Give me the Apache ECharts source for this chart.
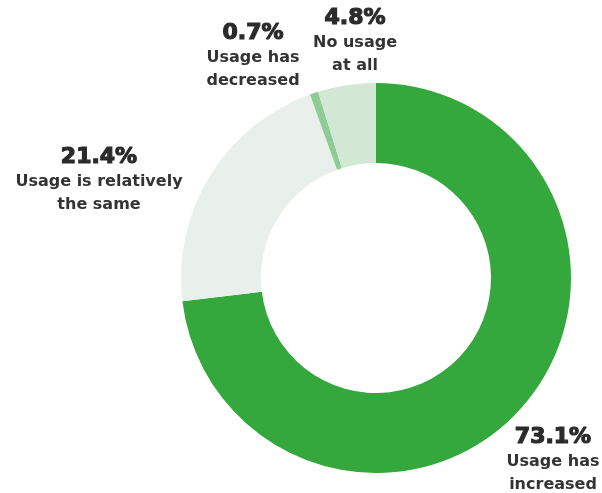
<!DOCTYPE html>
<html>
<head>
<meta charset="utf-8">
<script src="https://cdn.jsdelivr.net/npm/echarts@6/dist/echarts.min.js"></script>
<style>
  html, body { margin: 0; padding: 0; background: #fff; }
  #chart { width: 602px; height: 493px; }
</style>
</head>
<body>
<div id="chart"></div>
<script>
// 数据
const categories = ['Usage has increased', 'Usage is relatively the same', 'Usage has decreased', 'No usage at all']
const values = [73.1, 21.4, 0.7, 4.8]
const labelLines = [['Usage has', 'increased'], ['Usage is relatively', 'the same'], ['Usage has', 'decreased'], ['No usage', 'at all']]
const colors = ['#34a83c', '#e9efea', '#8fcb95', '#d3e7d5']

// 标签位置
const labelPos = [[553, 424], [99, 144], [253, 20], [355, 5]]

const chart = echarts.init(document.getElementById('chart'))

const graphics = values.map((v, i) => ({
  type: 'text',
  x: labelPos[i][0],
  y: labelPos[i][1],
  style: {
    text: '{p|' + v.toFixed(1) + '%}\n{t|' + labelLines[i].join('}\n{t|') + '}',
    align: 'center',
    rich: {
      p: {
        fontFamily: 'DejaVu Sans', fontWeight: 'bold', fontSize: 22, lineHeight: 26,
        fill: '#2b2b2b', stroke: '#2b2b2b', lineWidth: 1.2, align: 'center'
      },
      t: { fontFamily: 'DejaVu Sans', fontWeight: 'bold', fontSize: 16, lineHeight: 23, fill: '#333', align: 'center' }
    }
  }
}))

chart.setOption({
  animation: false,
  color: colors,
  graphic: graphics,
  series: [{
    type: 'pie',
    center: [376, 278],
    radius: [115, 195],
    startAngle: 90,
    clockwise: true,
    label: { show: false },
    labelLine: { show: false },
    itemStyle: { borderWidth: 0 },
    data: categories.map((c, i) => ({ name: c, value: values[i] }))
  }]
})
</script>
</body>
</html>
